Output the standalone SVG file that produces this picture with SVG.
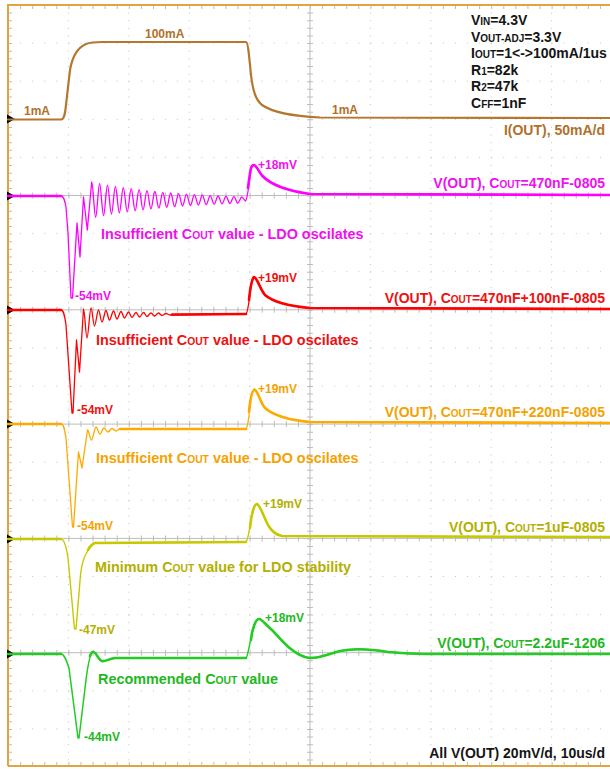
<svg xmlns="http://www.w3.org/2000/svg" width="610" height="769" viewBox="0 0 610 769">
<style>
.dh{stroke:#c4c4c4;stroke-width:1;stroke-dasharray:1 11.08;fill:none}
.dv{stroke:#c4c4c4;stroke-width:1;stroke-dasharray:1 6.62;fill:none}
.ax{stroke:#bcbcbc;stroke-width:1;fill:none}
.th{stroke:#bcbcbc;stroke-width:6;stroke-dasharray:1 11.08;fill:none}
.tv{stroke:#bcbcbc;stroke-width:6;stroke-dasharray:1 6.62;fill:none}
.bd{stroke:#e3a33e;stroke-width:2;fill:none}
.tr{fill:none;stroke-width:1.5;stroke-linejoin:round;stroke-linecap:round}
.fl{fill:none;stroke-width:2.6;stroke-linejoin:round;stroke-linecap:round}
text{font-family:"Liberation Sans",Arial,sans-serif;font-weight:bold;font-size:14px}
.sm{font-size:12px}
.md{font-size:14.4px}
.s{font-size:10px}
.md .s{font-size:10.3px}
.mg{fill:#ee11ee}.mgs{stroke:#ff00ff}
.rd{fill:#ee1111}.rds{stroke:#ff0000}
.or{fill:#f5a200}.ors{stroke:#ffaa00}
.ye{fill:#b3b000}.yes{stroke:#c8c800}
.gr{fill:#22b822}.grs{stroke:#22cc22}
.br{fill:#b0702a}.brs{stroke:#b5762e}
.bk{fill:#151515}
</style>
<rect width="610" height="769" fill="#ffffff"/>
<g id="grid">
<path class="dh" d="M8,43.1H610M8,81.2H610M8,119.3H610M8,157.4H610M8,233.6H610M8,271.7H610M8,347.9H610M8,386H610M8,462.2H610M8,500.3H610M8,576.5H610M8,614.6H610M8,690.8H610M8,728.9H610"/>
<path class="dv" d="M68.4,5V766M128.8,5V766M189.2,5V766M249.6,5V766M370.4,5V766M430.8,5V766M491.2,5V766M551.6,5V766"/>
<path class="ax" d="M8,195.5H610M8,309.8H610M8,424.1H610M8,538.4H610M8,652.7H610M310,5V766"/>
<path class="th" d="M8,195.5H610M8,309.8H610M8,424.1H610M8,538.4H610M8,652.7H610"/>
<path class="tv" d="M310,5V766"/>
<path class="tv" d="M10,5V766" style="stroke-width:4"/>
<path class="th" d="M8,7H610" style="stroke-width:4"/>
<path class="th" d="M8,764H610" style="stroke-width:4"/>
<path class="bd" d="M8,766V5H610M8,766H610"/>
</g>
<g id="markers" fill="#000">
<path d="M7,114.5L7,123.5L15,119Z"/>
<path d="M7,191.5L7,200.5L15,196Z"/>
<path d="M7,305.5L7,314.5L15,310Z"/>
<path d="M7,419.5L7,428.5L15,424Z"/>
<path d="M7,534.5L7,543.5L15,539Z"/>
<path d="M7,649.5L7,658.5L15,654Z"/>
</g>
<g id="traces">
<g id="iout">
<path class="fl brs" style="stroke-width:2.2" d="M8,119.5L61,119.5C64,119.5 65,115 66,105L70,70C72,58 77,48 86,44C90,42.5 95,42 102,42L246,42C248,42 249,55 251,75C253,92 256,100 262,105C272,112 290,116 320,117.5L610,118"/>
</g>
<g id="v470">
<path class="tr mgs" style="stroke-width:1.3" d="M8,196L61,196C63.5,196 64.5,199 66,207L68,233L71,298L72.5,298L77,223L80,257L83.5,197L87.3,230L91.7,182C93.1,182 94.25,217.2 95.65,217.2S98.2,183.6 99.6,183.6S102.15,215.6 103.55,215.6S106.1,185.1 107.5,185.1S110.05,214.2 111.45,214.2S114,186.4 115.4,186.4S117.95,212.9 119.35,212.9S121.9,187.6 123.3,187.6S125.85,211.8 127.25,211.8S129.8,188.7 131.2,188.7S133.75,210.7 135.15,210.7S137.7,189.7 139.1,189.7S141.65,209.8 143.05,209.8S145.6,190.7 147,190.7S149.55,208.9 150.95,208.9S153.5,191.5 154.9,191.5S157.45,208.1 158.85,208.1S161.4,192.3 162.8,192.3S165.35,207.4 166.75,207.4S169.3,193 170.7,193S173.25,206.7 174.65,206.7S177.2,193.6 178.6,193.6S181.15,206.1 182.55,206.1S185.1,194.2 186.5,194.2S189.05,205.5 190.45,205.5S193,194.7 194.4,194.7S196.95,205 198.35,205S200.9,195.2 202.3,195.2S204.85,204.6 206.25,204.6S208.8,195.6 210.2,195.6S212.75,204.2 214.15,204.2S216.7,196 218.1,196S220.65,203.8 222.05,203.8S224.6,196.4 226,196.4S228.55,203.5 229.95,203.5S232.5,196.7 233.9,196.7S236.45,203.1 237.85,203.1S240.4,197 241.8,197S244.5,201 245.5,201C247.5,199 249,185 250.5,173C251.5,166 252.5,165 254,165C256.5,165.5 258.5,171 262,175.5C270,184 285,190.5 310,194L610,195"/>
<path class="fl mgs" d="M8,196L61,196M248,188C249,180 250,172 251,168C252,165 253,165 254,165C256.5,165.5 258.5,171 262,175.5C270,184 285,190.5 310,194L610,195"/>
</g>
<g id="v570">
<path class="tr rds" style="stroke-width:1.3" d="M8,310L61,310C63.5,310 64.5,314 66,325L72,413L73,413L76.5,340L79.5,372L83.5,309C84.8,309 85.7,338 87,338S89.7,308 91,308S93.2,326 94.5,326S97.2,310 98.5,310S100.7,322 102,322S104.7,310.5 106,310.5S108.2,320 109.5,320S112.2,311 113.5,311S115.7,319 117,319S119.7,311.5 121,311.5S123.2,318 124.5,318S127.2,312 128.5,312S130.7,317.5 132,317.5S134.7,312.5 136,312.5S138.2,317 139.5,317S142.2,312.5 143.5,312.5S145.7,316.5 147,316.5S149.7,313 151,313S153.2,316 154.5,316S157.2,313 158.5,313S160.7,315.5 162,315.5S164.7,313.5 166,313.5S168.7,315 170,315L246,314C248,313 249,300 251,287C252,279 253,277 255,277C258,278 260,289 265,295C273,302 288,306 310,308L610,309"/>
<path class="fl rds" d="M8,310L61,310M172,314.5L246,314M249,300C250,290 252,279 254,277C257,277.5 260,289 265,295C273,302 288,306 310,308L610,309"/>
</g>
<g id="v690">
<path class="tr ors" style="stroke-width:1.3" d="M8,424L61,424C63.5,424 64.5,428 66,438L72.5,527L73.5,527L78.5,452L82,468L87.5,430C88.9,430 90.1,440 91.5,440S94.6,427 96,427S98.6,434 100,434S102.6,428 104,428S106.6,432 108,432S110.6,428.5 112,428.5S114.6,431 116,431S118.6,429 120,429L246,429C248,428 249,415 251,400C252,392 253,389 255,389.5C258,391 260,402 265,408C273,415 288,420 310,422L610,423"/>
<path class="fl ors" d="M8,424L61,424M120,429L246,429M249,412C250,400 252,391 254.5,389.5C258,391 260,402 265,408C273,415 288,420 310,422L610,423"/>
</g>
<g id="v1u">
<path class="tr yes" style="stroke-width:1.4" d="M8,539L61,539C64,539 66,545 68,558L74.5,629L76,629L80.5,575C82,562 84,557 86.5,553C89,549 91,545 95,543L246,542C248,541 250,525 252,515C254,507 255,504 257,504C260,505 263,515 268,525C272,532 276,535 282,536L610,537"/>
<path class="fl yes" d="M8,539L61,539M88,550C90,546 92,544 95,543L246,542M250,528C251,515 254,504 257,504C260,505 263,515 268,525C272,532 276,535 282,536L610,537"/>
</g>
<g id="v2u2">
<path class="tr grs" style="stroke-width:1.5" d="M8,654L61,654C64,654 66,659 69,668L78,738L79,738L86,680C88,664 90,653 93,652C96,651 98,660 102,661C105,662 108,659 115,658L246,658C248,657 250,640 253,630C255,622 257,619 259,619C262,619 266,625 272,630C280,638 290,652 305,657C315,660 325,655 340,651C355,648 370,649 388,652C400,653 410,654 425,654L610,654"/>
<path class="fl grs" d="M8,654L61,654M90,656C91,653 92,652 93,652C96,651 98,660 102,661C105,662 108,659 115,658L246,658M251,640C252,628 256,619 259,619C262,619 266,625 272,630C280,638 290,652 305,657C315,660 325,655 340,651C355,648 370,649 388,652C400,653 410,654 425,654L610,654"/>
</g>
</g>
<g id="params" class="bk">
<text x="471" y="25">V<tspan class="s">IN</tspan>=4.3V</text>
<text x="471" y="41.6">V<tspan class="s">OUT-ADJ</tspan>=3.3V</text>
<text x="471" y="58.2">I<tspan class="s">OUT</tspan>=1&lt;-&gt;100mA/1us</text>
<text x="471" y="74.8">R<tspan class="s">1</tspan>=82k</text>
<text x="471" y="91.4">R<tspan class="s">2</tspan>=47k</text>
<text x="471" y="108">C<tspan class="s">FF</tspan>=1nF</text>
</g>
<g id="labels-iout" class="br">
<text class="sm" x="24" y="115">1mA</text>
<text class="sm" x="145" y="38">100mA</text>
<text class="sm" x="332" y="114">1mA</text>
<text x="605" y="135" text-anchor="end">I(OUT), 50mA/d</text>
</g>
<g id="labels-v470" class="mg">
<text class="sm" x="258" y="169">+18mV</text>
<text class="sm" x="75" y="300">-54mV</text>
<text class="md" x="101" y="239">Insufficient C<tspan class="s">OUT</tspan> value - LDO oscilates</text>
<text x="605" y="188" text-anchor="end">V(OUT), C<tspan class="s">OUT</tspan>=470nF-0805</text>
</g>
<g id="labels-v570" class="rd">
<text class="sm" x="258" y="282">+19mV</text>
<text class="sm" x="77" y="414">-54mV</text>
<text class="md" x="96" y="345">Insufficient C<tspan class="s">OUT</tspan> value - LDO oscilates</text>
<text x="605" y="303" text-anchor="end">V(OUT), C<tspan class="s">OUT</tspan>=470nF+100nF-0805</text>
</g>
<g id="labels-v690" class="or">
<text class="sm" x="258" y="393">+19mV</text>
<text class="sm" x="77" y="530">-54mV</text>
<text class="md" x="96" y="463">Insufficient C<tspan class="s">OUT</tspan> value - LDO oscilates</text>
<text x="605" y="417" text-anchor="end">V(OUT), C<tspan class="s">OUT</tspan>=470nF+220nF-0805</text>
</g>
<g id="labels-v1u" class="ye">
<text class="sm" x="263" y="508">+19mV</text>
<text class="sm" x="79" y="634">-47mV</text>
<text class="md" x="95" y="572">Minimum C<tspan class="s">OUT</tspan> value for LDO stability</text>
<text x="605" y="532" text-anchor="end">V(OUT), C<tspan class="s">OUT</tspan>=1uF-0805</text>
</g>
<g id="labels-v2u2" class="gr">
<text class="sm" x="265" y="622">+18mV</text>
<text class="sm" x="84" y="741">-44mV</text>
<text class="md" x="98" y="684">Recommended C<tspan class="s">OUT</tspan> value</text>
<text x="605" y="648" text-anchor="end">V(OUT), C<tspan class="s">OUT</tspan>=2.2uF-1206</text>
</g>
<g id="footer" class="bk">
<text x="605" y="758" text-anchor="end">All V(OUT) 20mV/d, 10us/d</text>
</g>
</svg>
